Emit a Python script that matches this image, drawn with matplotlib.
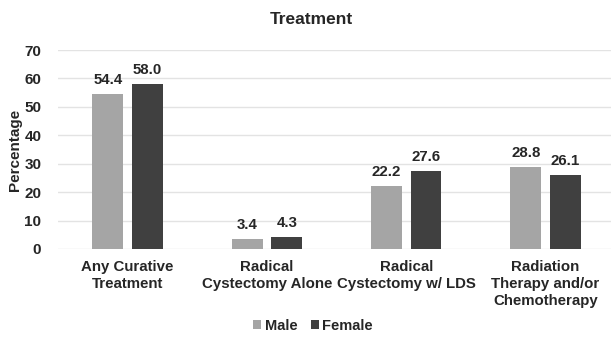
import matplotlib
matplotlib.use("Agg")
import matplotlib.pyplot as plt
import numpy as np

categories = [
    "Any Curative\nTreatment",
    "Radical\nCystectomy Alone",
    "Radical\nCystectomy w/ LDS",
    "Radiation\nTherapy and/or\nChemotherapy",
]
male = [54.4, 3.4, 22.2, 28.8]
female = [58.0, 4.3, 27.6, 26.1]
yticks = [0, 10, 20, 30, 40, 50, 60, 70]

plt.rcParams["font.family"] = ["Liberation Sans", "DejaVu Sans"]
plt.rcParams["font.weight"] = "bold"

fig = plt.figure(figsize=(6.11, 3.38), dpi=100)
ax = fig.add_axes([58 / 611, 1 - 249 / 338, 553 / 611, 199 / 338])

x = np.arange(len(categories))
off = 0.142
w = 0.222
b1 = ax.bar(x - off, male, w, color="#a5a5a5", label="Male", zorder=3)
b2 = ax.bar(x + off, female, w, color="#404040", label="Female", zorder=3)

for bars, vals in ((b1, male), (b2, female)):
    for r, v in zip(bars, vals):
        ax.annotate(f"{v:.1f}", xy=(r.get_x() + r.get_width() / 2, v),
                    xytext=(0, 5), textcoords="offset points",
                    ha="center", va="bottom", fontsize=10.8, fontweight="bold",
                    color="#262626")

ax.set_xlim(-0.5, 3.47)
ax.set_ylim(0, 70)
ax.set_yticks(yticks)
ax.set_yticklabels([str(t) for t in yticks], fontsize=11, fontweight="bold", color="#262626")
ax.set_xticks(x)
ax.set_xticklabels(categories, fontsize=10.8, fontweight="bold", color="#262626",
                   linespacing=1.25)
ax.tick_params(axis="both", length=0)
ax.tick_params(axis="y", pad=12)
ax.tick_params(axis="x", pad=8)
ax.grid(axis="y", color="#e3e3e3", linewidth=1, zorder=0)
for s in ax.spines.values():
    s.set_visible(False)

ax.set_ylabel("Percentage", fontsize=11, fontweight="bold", color="#262626", labelpad=2)
fig.text(311 / 611, 1 - 19 / 338, "Treatment", ha="center", va="center",
         fontsize=12.5, fontweight="bold", color="#262626")

fig.legend(loc="center", bbox_to_anchor=(313 / 611, 1 - 326 / 338), ncol=2,
           frameon=False, fontsize=10.5, handlelength=0.55, handleheight=0.55,
           handletextpad=0.25, columnspacing=0.9, labelcolor="#262626")

fig.savefig("out.png", dpi=100)
